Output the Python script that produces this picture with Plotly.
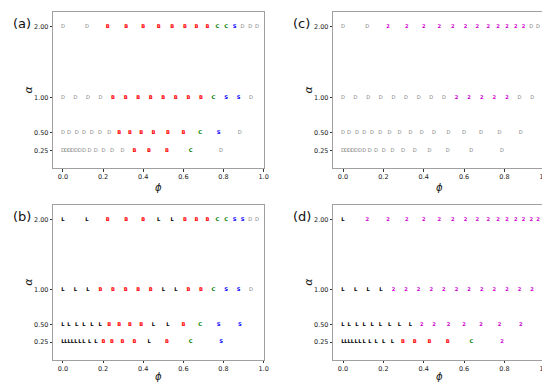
import plotly.graph_objects as go

# phi grid per alpha row
phi_a2 = [0.0, 0.12, 0.223, 0.316, 0.40, 0.477, 0.544, 0.608, 0.666, 0.72, 0.769, 0.813, 0.856, 0.895, 0.933, 0.967]
phi_a1 = [0.0, 0.0625, 0.125, 0.1875, 0.25, 0.3125, 0.375, 0.4375, 0.5, 0.5625, 0.625, 0.6875, 0.75, 0.8125, 0.875, 0.9375]
phi_a05 = [0.0, 0.030, 0.069, 0.105, 0.144, 0.185, 0.231, 0.280, 0.334, 0.390, 0.451, 0.523, 0.600, 0.684, 0.776, 0.881]
phi_a025 = [0.0, 0.015, 0.031, 0.047, 0.065, 0.084, 0.105, 0.133, 0.164, 0.202, 0.245, 0.297, 0.356, 0.429, 0.519, 0.636, 0.788]

alphas = [2.0, 1.0, 0.5, 0.25]
y_ticks = [2.0, 1.0, 0.5, 0.25]
y_ticktext = ["2.00", "1.00", "0.50", "0.25"]
x_ticks = [0.0, 0.2, 0.4, 0.6, 0.8, 1.0]
x_ticktext = ["0.0", "0.2", "0.4", "0.6", "0.8", "1.0"]

# state labels per panel, rows alpha = 2, 1, 0.5, 0.25
labels_a = [list("DDBBBBBBBBCCSDDD"), list("DDDDBBBBBBBBCSSD"),
            list("DDDDDDDBBBBBBCSD"), list("DDDDDDDDDDDDBBBCD")]
labels_b = [list("LLBBBLLBBBCCSSDD"), list("LLLBBBBBLLBBCSSD"),
            list("LLLLLLBBBBLLBCSS"), list("LLLLLLLLLBBBBLBCS")]
labels_c = [list("DD222222222222DD"), list("DDDDDDDDD22222DD"),
            list("DDDDDDDDDDDDDDDD"), list("DDDDDDDDDDDDDDDDD")]
labels_d = [list("L222222222222222"), list("LLLL222222222222"),
            list("LLLLLLLLL2222222"), list("LLLLLLLLLLLBBBBC2")]

panel_names = ["(a)", "(b)", "(c)", "(d)"]
colors = {"D": "#808080", "B": "#ff0000", "C": "#008000", "S": "#0000ff",
          "L": "#000000", "2": "#d000d0"}

W, H = 550, 382
def px(x):
    return x / W
def py(y):
    return 1 - y / H

# panel frames in pixels: (left, right, top, bottom)
frames = [(45.7, 258.0, 4.0, 160.0), (45.7, 258.0, 196.7, 351.7),
          (328.3, 541.7, 4.0, 160.0), (328.3, 541.7, 196.7, 351.7)]

phis = [phi_a2, phi_a1, phi_a05, phi_a025]
all_labels = [labels_a, labels_b, labels_c, labels_d]

fig = go.Figure()
for i, (labs, fr) in enumerate(zip(all_labels, frames)):
    xa = "x" if i == 0 else f"x{i+1}"
    ya = "y" if i == 0 else f"y{i+1}"
    for key in ["D", "L", "B", "C", "S", "2"]:
        xs, ys = [], []
        for row, al in enumerate(alphas):
            for ph, lb in zip(phis[row], labs[row]):
                if lb == key:
                    xs.append(ph)
                    ys.append(al)
        if not xs:
            continue
        fig.add_trace(go.Scatter(
            x=xs, y=ys, mode="text", text=[key] * len(xs),
            textposition="middle center",
            textfont=dict(family="DejaVu Sans", size=5.2, color=colors[key],
                          weight=("normal" if key == "D" else "bold")),
            xaxis=xa, yaxis=ya, showlegend=False, hoverinfo="skip"))

layout = dict(width=W, height=H, margin=dict(l=0, r=0, t=0, b=0),
              plot_bgcolor="white", paper_bgcolor="white", showlegend=False)
annotations = []
for i, fr in enumerate(frames):
    l, r, t, b = fr
    sx = "xaxis" if i == 0 else f"xaxis{i+1}"
    sy = "yaxis" if i == 0 else f"yaxis{i+1}"
    anc_x = "y" if i == 0 else f"y{i+1}"
    anc_y = "x" if i == 0 else f"x{i+1}"
    layout[sx] = dict(domain=[px(l), px(r)], range=[-0.048, 1.0], anchor=anc_x,
                      tickvals=x_ticks, ticktext=x_ticktext, ticks="outside",
                      ticklen=2.5, tickcolor="#333", tickwidth=0.8,
                      tickfont=dict(family="DejaVu Sans", size=6.5, color="#222"),
                      showline=True, mirror=True, linecolor="#a0a0a0", linewidth=1,
                      showgrid=False, zeroline=False)
    layout[sy] = dict(domain=[py(b), py(t)], range=[0.0, 2.21], anchor=anc_y,
                      tickvals=y_ticks, ticktext=y_ticktext, ticks="outside",
                      ticklen=2.5, tickcolor="#333", tickwidth=0.8,
                      tickfont=dict(family="DejaVu Sans", size=6.5, color="#222"),
                      showline=True, mirror=True, linecolor="#a0a0a0", linewidth=1,
                      showgrid=False, zeroline=False)
    cx = (l + r) / 2
    cy = (t + b) / 2
    off = 19 if t < 100 else 17
    # x title
    annotations.append(dict(x=px(cx), y=py(b + off), xref="paper", yref="paper",
                            text="<i>ϕ</i>", showarrow=False,
                            font=dict(family="DejaVu Sans", size=10, color="#111"),
                            xanchor="center", yanchor="middle"))
    # y title
    annotations.append(dict(x=px(l - 25), y=py(cy), xref="paper", yref="paper",
                            text="<i>α</i>", showarrow=False, textangle=-90,
                            font=dict(family="DejaVu Sans", size=11, color="#111"),
                            xanchor="center", yanchor="middle"))
    # panel label
    annotations.append(dict(x=px(l - 32), y=py(t + 11.5), xref="paper", yref="paper",
                            text=panel_names[i], showarrow=False,
                            font=dict(family="DejaVu Sans", size=13, color="#111"),
                            xanchor="center", yanchor="middle"))
layout["annotations"] = annotations
fig.update_layout(**layout)
fig.write_html("out.html")
